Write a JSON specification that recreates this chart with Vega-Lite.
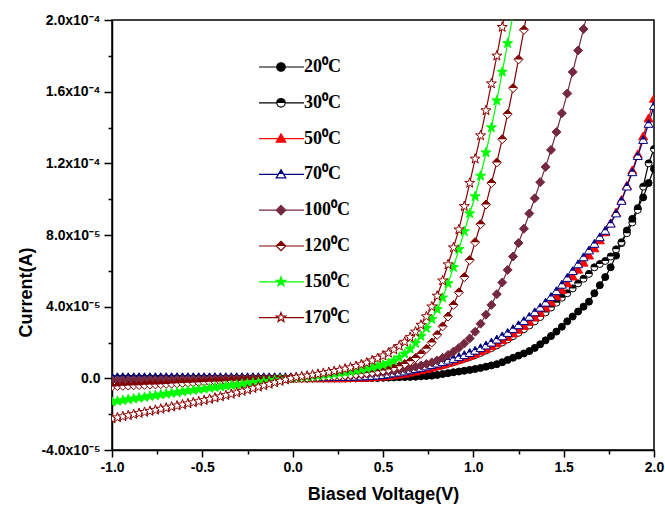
{
"$schema": "https://vega.github.io/schema/vega-lite/v6.json",
"width": 542, "height": 430,
"autosize": "none",
"padding": {"left": 112, "top": 20, "right": 11, "bottom": 60},
"background": "white",
"config": {"view": {"stroke": "black", "strokeWidth": 1.5}},
"data": {"values": [
{"s":"20","v":-1,"i":0},{"s":"20","v":-0.97,"i":0},{"s":"20","v":-0.94,"i":0},{"s":"20","v":-0.91,"i":0},{"s":"20","v":-0.88,"i":0},{"s":"20","v":-0.85,"i":0},{"s":"20","v":-0.82,"i":0},{"s":"20","v":-0.79,"i":0},{"s":"20","v":-0.76,"i":0},{"s":"20","v":-0.73,"i":0},
{"s":"20","v":-0.7,"i":0},{"s":"20","v":-0.67,"i":0},{"s":"20","v":-0.64,"i":0},{"s":"20","v":-0.61,"i":0},{"s":"20","v":-0.58,"i":0},{"s":"20","v":-0.55,"i":0},{"s":"20","v":-0.52,"i":0},{"s":"20","v":-0.49,"i":0},{"s":"20","v":-0.46,"i":0},{"s":"20","v":-0.43,"i":0},
{"s":"20","v":-0.4,"i":0},{"s":"20","v":-0.37,"i":0},{"s":"20","v":-0.34,"i":0},{"s":"20","v":-0.31,"i":0},{"s":"20","v":-0.28,"i":0},{"s":"20","v":-0.25,"i":0},{"s":"20","v":-0.22,"i":0},{"s":"20","v":-0.19,"i":0},{"s":"20","v":-0.16,"i":0},{"s":"20","v":-0.13,"i":0},
{"s":"20","v":-0.1,"i":0},{"s":"20","v":-0.07,"i":0},{"s":"20","v":-0.04,"i":0},{"s":"20","v":-0.01,"i":0},{"s":"20","v":0.02,"i":0},{"s":"20","v":0.05,"i":0},{"s":"20","v":0.08,"i":0},{"s":"20","v":0.11,"i":0},{"s":"20","v":0.14,"i":0},{"s":"20","v":0.17,"i":0},
{"s":"20","v":0.2,"i":0},{"s":"20","v":0.23,"i":0},{"s":"20","v":0.26,"i":0},{"s":"20","v":0.29,"i":0},{"s":"20","v":0.32,"i":0},{"s":"20","v":0.35,"i":0},{"s":"20","v":0.38,"i":0.1e-6},{"s":"20","v":0.41,"i":0.1e-6},{"s":"20","v":0.44,"i":0.2e-6},{"s":"20","v":0.47,"i":0.2e-6},
{"s":"20","v":0.5,"i":0.3e-6},{"s":"20","v":0.53,"i":0.4e-6},{"s":"20","v":0.56,"i":0.5e-6},{"s":"20","v":0.59,"i":0.6e-6},{"s":"20","v":0.62,"i":0.7e-6},{"s":"20","v":0.65,"i":0.8e-6},{"s":"20","v":0.68,"i":0.9e-6},{"s":"20","v":0.71,"i":1.1e-6},{"s":"20","v":0.74,"i":1.3e-6},{"s":"20","v":0.77,"i":1.5e-6},
{"s":"20","v":0.8,"i":1.9e-6},{"s":"20","v":0.83,"i":2.4e-6},{"s":"20","v":0.86,"i":2.9e-6},{"s":"20","v":0.89,"i":3.4e-6},{"s":"20","v":0.92,"i":3.8e-6},{"s":"20","v":0.95,"i":4.2e-6},{"s":"20","v":0.98,"i":4.7e-6},{"s":"20","v":1.01,"i":5.2e-6},{"s":"20","v":1.04,"i":5.8e-6},{"s":"20","v":1.07,"i":6.5e-6},
{"s":"20","v":1.1,"i":7.2e-6},{"s":"20","v":1.13,"i":7.9e-6},{"s":"20","v":1.16,"i":9.0e-6},{"s":"20","v":1.19,"i":10.3e-6},{"s":"20","v":1.22,"i":11.5e-6},{"s":"20","v":1.25,"i":12.7e-6},{"s":"20","v":1.28,"i":13.9e-6},{"s":"20","v":1.31,"i":15.2e-6},{"s":"20","v":1.34,"i":17.0e-6},{"s":"20","v":1.37,"i":19.0e-6},
{"s":"20","v":1.4,"i":21.2e-6},{"s":"20","v":1.43,"i":23.6e-6},{"s":"20","v":1.46,"i":26.1e-6},{"s":"20","v":1.49,"i":28.8e-6},{"s":"20","v":1.52,"i":31.8e-6},{"s":"20","v":1.55,"i":34.5e-6},{"s":"20","v":1.58,"i":37.3e-6},{"s":"20","v":1.61,"i":40.0e-6},{"s":"20","v":1.64,"i":42.8e-6},{"s":"20","v":1.67,"i":47.5e-6},
{"s":"20","v":1.7,"i":52.0e-6},{"s":"20","v":1.73,"i":56.5e-6},{"s":"20","v":1.76,"i":62.0e-6},{"s":"20","v":1.79,"i":68.5e-6},{"s":"20","v":1.82,"i":75.5e-6},{"s":"20","v":1.85,"i":82.5e-6},{"s":"20","v":1.88,"i":89.0e-6},{"s":"20","v":1.91,"i":95.0e-6},{"s":"20","v":1.94,"i":101e-6},{"s":"20","v":1.97,"i":109e-6},
{"s":"20","v":2,"i":117e-6},
{"s":"30","v":-1,"i":0},{"s":"30","v":-0.97,"i":0},{"s":"30","v":-0.94,"i":0},{"s":"30","v":-0.91,"i":0},{"s":"30","v":-0.88,"i":0},{"s":"30","v":-0.85,"i":0},{"s":"30","v":-0.82,"i":0},{"s":"30","v":-0.79,"i":0},{"s":"30","v":-0.76,"i":0},{"s":"30","v":-0.73,"i":0},
{"s":"30","v":-0.7,"i":0},{"s":"30","v":-0.67,"i":0},{"s":"30","v":-0.64,"i":0},{"s":"30","v":-0.61,"i":0},{"s":"30","v":-0.58,"i":0},{"s":"30","v":-0.55,"i":0},{"s":"30","v":-0.52,"i":0},{"s":"30","v":-0.49,"i":0},{"s":"30","v":-0.46,"i":0},{"s":"30","v":-0.43,"i":0},
{"s":"30","v":-0.4,"i":0},{"s":"30","v":-0.37,"i":0},{"s":"30","v":-0.34,"i":0},{"s":"30","v":-0.31,"i":0},{"s":"30","v":-0.28,"i":0},{"s":"30","v":-0.25,"i":0},{"s":"30","v":-0.22,"i":0},{"s":"30","v":-0.19,"i":0},{"s":"30","v":-0.16,"i":0},{"s":"30","v":-0.13,"i":0},
{"s":"30","v":-0.1,"i":0},{"s":"30","v":-0.07,"i":0},{"s":"30","v":-0.04,"i":0},{"s":"30","v":-0.01,"i":0},{"s":"30","v":0.02,"i":0},{"s":"30","v":0.05,"i":0},{"s":"30","v":0.08,"i":0},{"s":"30","v":0.11,"i":0},{"s":"30","v":0.14,"i":0},{"s":"30","v":0.17,"i":0},
{"s":"30","v":0.2,"i":0},{"s":"30","v":0.23,"i":0},{"s":"30","v":0.26,"i":0},{"s":"30","v":0.29,"i":0},{"s":"30","v":0.32,"i":0},{"s":"30","v":0.35,"i":0},{"s":"30","v":0.38,"i":0.1e-6},{"s":"30","v":0.41,"i":0.2e-6},{"s":"30","v":0.44,"i":0.3e-6},{"s":"30","v":0.47,"i":0.5e-6},
{"s":"30","v":0.5,"i":0.7e-6},{"s":"30","v":0.53,"i":1.0e-6},{"s":"30","v":0.56,"i":1.4e-6},{"s":"30","v":0.59,"i":1.8e-6},{"s":"30","v":0.62,"i":2.3e-6},{"s":"30","v":0.65,"i":2.9e-6},{"s":"30","v":0.68,"i":3.5e-6},{"s":"30","v":0.71,"i":4.2e-6},{"s":"30","v":0.74,"i":4.9e-6},{"s":"30","v":0.77,"i":5.7e-6},
{"s":"30","v":0.8,"i":6.5e-6},{"s":"30","v":0.83,"i":7.3e-6},{"s":"30","v":0.86,"i":8.1e-6},{"s":"30","v":0.89,"i":9.0e-6},{"s":"30","v":0.92,"i":9.9e-6},{"s":"30","v":0.95,"i":10.9e-6},{"s":"30","v":0.98,"i":11.9e-6},{"s":"30","v":1.01,"i":13.0e-6},{"s":"30","v":1.04,"i":14.2e-6},{"s":"30","v":1.07,"i":15.5e-6},
{"s":"30","v":1.1,"i":16.9e-6},{"s":"30","v":1.13,"i":18.4e-6},{"s":"30","v":1.16,"i":20.0e-6},{"s":"30","v":1.19,"i":21.7e-6},{"s":"30","v":1.22,"i":23.5e-6},{"s":"30","v":1.25,"i":25.4e-6},{"s":"30","v":1.28,"i":27.4e-6},{"s":"30","v":1.31,"i":29.5e-6},{"s":"30","v":1.34,"i":31.8e-6},{"s":"30","v":1.37,"i":34.2e-6},
{"s":"30","v":1.4,"i":36.8e-6},{"s":"30","v":1.43,"i":39.5e-6},{"s":"30","v":1.46,"i":42.2e-6},{"s":"30","v":1.49,"i":45.0e-6},{"s":"30","v":1.52,"i":47.5e-6},{"s":"30","v":1.55,"i":50.2e-6},{"s":"30","v":1.58,"i":53.0e-6},{"s":"30","v":1.61,"i":55.6e-6},{"s":"30","v":1.64,"i":58.3e-6},{"s":"30","v":1.67,"i":62.0e-6},
{"s":"30","v":1.7,"i":63.8e-6},{"s":"30","v":1.73,"i":65.5e-6},{"s":"30","v":1.76,"i":68.0e-6},{"s":"30","v":1.79,"i":72.0e-6},{"s":"30","v":1.82,"i":76.0e-6},{"s":"30","v":1.85,"i":81.0e-6},{"s":"30","v":1.88,"i":87.0e-6},{"s":"30","v":1.91,"i":94.0e-6},{"s":"30","v":1.94,"i":107e-6},{"s":"30","v":1.97,"i":120e-6},
{"s":"30","v":2,"i":128e-6},
{"s":"50","v":-1,"i":0},{"s":"50","v":-0.97,"i":0},{"s":"50","v":-0.94,"i":0},{"s":"50","v":-0.91,"i":0},{"s":"50","v":-0.88,"i":0},{"s":"50","v":-0.85,"i":0},{"s":"50","v":-0.82,"i":0},{"s":"50","v":-0.79,"i":0},{"s":"50","v":-0.76,"i":0},{"s":"50","v":-0.73,"i":0},
{"s":"50","v":-0.7,"i":0},{"s":"50","v":-0.67,"i":0},{"s":"50","v":-0.64,"i":0},{"s":"50","v":-0.61,"i":0},{"s":"50","v":-0.58,"i":0},{"s":"50","v":-0.55,"i":0},{"s":"50","v":-0.52,"i":0},{"s":"50","v":-0.49,"i":0},{"s":"50","v":-0.46,"i":0},{"s":"50","v":-0.43,"i":0},
{"s":"50","v":-0.4,"i":0},{"s":"50","v":-0.37,"i":0},{"s":"50","v":-0.34,"i":0},{"s":"50","v":-0.31,"i":0},{"s":"50","v":-0.28,"i":0},{"s":"50","v":-0.25,"i":0},{"s":"50","v":-0.22,"i":0},{"s":"50","v":-0.19,"i":0},{"s":"50","v":-0.16,"i":0},{"s":"50","v":-0.13,"i":0},
{"s":"50","v":-0.1,"i":0},{"s":"50","v":-0.07,"i":0},{"s":"50","v":-0.04,"i":0},{"s":"50","v":-0.01,"i":0},{"s":"50","v":0.02,"i":0},{"s":"50","v":0.05,"i":0},{"s":"50","v":0.08,"i":0},{"s":"50","v":0.11,"i":0},{"s":"50","v":0.14,"i":0},{"s":"50","v":0.17,"i":0},
{"s":"50","v":0.2,"i":0},{"s":"50","v":0.23,"i":0},{"s":"50","v":0.26,"i":0},{"s":"50","v":0.29,"i":0},{"s":"50","v":0.32,"i":0.1e-6},{"s":"50","v":0.35,"i":0.2e-6},{"s":"50","v":0.38,"i":0.3e-6},{"s":"50","v":0.41,"i":0.4e-6},{"s":"50","v":0.44,"i":0.6e-6},{"s":"50","v":0.47,"i":0.8e-6},
{"s":"50","v":0.5,"i":1.0e-6},{"s":"50","v":0.53,"i":1.3e-6},{"s":"50","v":0.56,"i":1.7e-6},{"s":"50","v":0.59,"i":2.1e-6},{"s":"50","v":0.62,"i":2.6e-6},{"s":"50","v":0.65,"i":3.2e-6},{"s":"50","v":0.68,"i":3.8e-6},{"s":"50","v":0.71,"i":4.5e-6},{"s":"50","v":0.74,"i":5.2e-6},{"s":"50","v":0.77,"i":6.0e-6},
{"s":"50","v":0.8,"i":6.8e-6},{"s":"50","v":0.83,"i":7.6e-6},{"s":"50","v":0.86,"i":8.5e-6},{"s":"50","v":0.89,"i":9.4e-6},{"s":"50","v":0.92,"i":10.4e-6},{"s":"50","v":0.95,"i":11.4e-6},{"s":"50","v":0.98,"i":12.5e-6},{"s":"50","v":1.01,"i":13.7e-6},{"s":"50","v":1.04,"i":15.0e-6},{"s":"50","v":1.07,"i":16.4e-6},
{"s":"50","v":1.1,"i":17.9e-6},{"s":"50","v":1.13,"i":19.5e-6},{"s":"50","v":1.16,"i":21.2e-6},{"s":"50","v":1.19,"i":23.0e-6},{"s":"50","v":1.22,"i":25.0e-6},{"s":"50","v":1.25,"i":27.1e-6},{"s":"50","v":1.28,"i":29.3e-6},{"s":"50","v":1.31,"i":31.6e-6},{"s":"50","v":1.34,"i":34.0e-6},{"s":"50","v":1.37,"i":36.6e-6},
{"s":"50","v":1.4,"i":39.4e-6},{"s":"50","v":1.43,"i":42.4e-6},{"s":"50","v":1.46,"i":45.7e-6},{"s":"50","v":1.49,"i":49.3e-6},{"s":"50","v":1.52,"i":53.0e-6},{"s":"50","v":1.55,"i":56.8e-6},{"s":"50","v":1.58,"i":60.6e-6},{"s":"50","v":1.61,"i":64.5e-6},{"s":"50","v":1.64,"i":68.5e-6},{"s":"50","v":1.67,"i":72.5e-6},
{"s":"50","v":1.7,"i":77.0e-6},{"s":"50","v":1.73,"i":81.5e-6},{"s":"50","v":1.76,"i":86.5e-6},{"s":"50","v":1.79,"i":92.5e-6},{"s":"50","v":1.82,"i":99.5e-6},{"s":"50","v":1.85,"i":107.5e-6},{"s":"50","v":1.88,"i":116e-6},{"s":"50","v":1.91,"i":125e-6},{"s":"50","v":1.94,"i":135e-6},{"s":"50","v":1.97,"i":145e-6},
{"s":"50","v":2,"i":156e-6},
{"s":"70","v":-1,"i":0.6e-6},{"s":"70","v":-0.97,"i":0.6e-6},{"s":"70","v":-0.94,"i":0.6e-6},{"s":"70","v":-0.91,"i":0.6e-6},{"s":"70","v":-0.88,"i":0.6e-6},{"s":"70","v":-0.85,"i":0.6e-6},{"s":"70","v":-0.82,"i":0.6e-6},{"s":"70","v":-0.79,"i":0.6e-6},{"s":"70","v":-0.76,"i":0.6e-6},{"s":"70","v":-0.73,"i":0.6e-6},
{"s":"70","v":-0.7,"i":0.6e-6},{"s":"70","v":-0.67,"i":0.6e-6},{"s":"70","v":-0.64,"i":0.6e-6},{"s":"70","v":-0.61,"i":0.6e-6},{"s":"70","v":-0.58,"i":0.6e-6},{"s":"70","v":-0.55,"i":0.6e-6},{"s":"70","v":-0.52,"i":0.6e-6},{"s":"70","v":-0.49,"i":0.6e-6},{"s":"70","v":-0.46,"i":0.6e-6},{"s":"70","v":-0.43,"i":0.6e-6},
{"s":"70","v":-0.4,"i":0.6e-6},{"s":"70","v":-0.37,"i":0.6e-6},{"s":"70","v":-0.34,"i":0.6e-6},{"s":"70","v":-0.31,"i":0.6e-6},{"s":"70","v":-0.28,"i":0.6e-6},{"s":"70","v":-0.25,"i":0.6e-6},{"s":"70","v":-0.22,"i":0.6e-6},{"s":"70","v":-0.19,"i":0.6e-6},{"s":"70","v":-0.16,"i":0.6e-6},{"s":"70","v":-0.13,"i":0.6e-6},
{"s":"70","v":-0.1,"i":0.6e-6},{"s":"70","v":-0.07,"i":0.6e-6},{"s":"70","v":-0.04,"i":0.6e-6},{"s":"70","v":-0.01,"i":0.6e-6},{"s":"70","v":0.02,"i":0.6e-6},{"s":"70","v":0.05,"i":0.6e-6},{"s":"70","v":0.08,"i":0.6e-6},{"s":"70","v":0.11,"i":0.6e-6},{"s":"70","v":0.14,"i":0.6e-6},{"s":"70","v":0.17,"i":0.6e-6},
{"s":"70","v":0.2,"i":0.6e-6},{"s":"70","v":0.23,"i":0.65e-6},{"s":"70","v":0.26,"i":0.7e-6},{"s":"70","v":0.29,"i":0.75e-6},{"s":"70","v":0.32,"i":0.8e-6},{"s":"70","v":0.35,"i":0.9e-6},{"s":"70","v":0.38,"i":1.0e-6},{"s":"70","v":0.41,"i":1.1e-6},{"s":"70","v":0.44,"i":1.3e-6},{"s":"70","v":0.47,"i":1.5e-6},
{"s":"70","v":0.5,"i":1.8e-6},{"s":"70","v":0.53,"i":2.2e-6},{"s":"70","v":0.56,"i":2.7e-6},{"s":"70","v":0.59,"i":3.2e-6},{"s":"70","v":0.62,"i":3.8e-6},{"s":"70","v":0.65,"i":4.4e-6},{"s":"70","v":0.68,"i":5.1e-6},{"s":"70","v":0.71,"i":5.8e-6},{"s":"70","v":0.74,"i":6.6e-6},{"s":"70","v":0.77,"i":7.4e-6},
{"s":"70","v":0.8,"i":8.2e-6},{"s":"70","v":0.83,"i":9.0e-6},{"s":"70","v":0.86,"i":9.9e-6},{"s":"70","v":0.89,"i":10.8e-6},{"s":"70","v":0.92,"i":11.8e-6},{"s":"70","v":0.95,"i":12.9e-6},{"s":"70","v":0.98,"i":14.1e-6},{"s":"70","v":1.01,"i":15.4e-6},{"s":"70","v":1.04,"i":16.8e-6},{"s":"70","v":1.07,"i":18.3e-6},
{"s":"70","v":1.1,"i":19.9e-6},{"s":"70","v":1.13,"i":21.6e-6},{"s":"70","v":1.16,"i":23.4e-6},{"s":"70","v":1.19,"i":25.3e-6},{"s":"70","v":1.22,"i":27.4e-6},{"s":"70","v":1.25,"i":29.6e-6},{"s":"70","v":1.28,"i":31.9e-6},{"s":"70","v":1.31,"i":34.3e-6},{"s":"70","v":1.34,"i":36.8e-6},{"s":"70","v":1.37,"i":39.4e-6},
{"s":"70","v":1.4,"i":42.2e-6},{"s":"70","v":1.43,"i":45.3e-6},{"s":"70","v":1.46,"i":48.6e-6},{"s":"70","v":1.49,"i":52.2e-6},{"s":"70","v":1.52,"i":56.0e-6},{"s":"70","v":1.55,"i":59.8e-6},{"s":"70","v":1.58,"i":63.6e-6},{"s":"70","v":1.61,"i":67.5e-6},{"s":"70","v":1.64,"i":71.3e-6},{"s":"70","v":1.67,"i":75.0e-6},
{"s":"70","v":1.7,"i":78.7e-6},{"s":"70","v":1.73,"i":82.3e-6},{"s":"70","v":1.76,"i":86.3e-6},{"s":"70","v":1.79,"i":92.0e-6},{"s":"70","v":1.82,"i":99.0e-6},{"s":"70","v":1.85,"i":107e-6},{"s":"70","v":1.88,"i":115e-6},{"s":"70","v":1.91,"i":124e-6},{"s":"70","v":1.94,"i":133e-6},{"s":"70","v":1.97,"i":142e-6},
{"s":"70","v":2,"i":152e-6},
{"s":"100","v":-1,"i":-1.2e-6},{"s":"100","v":-0.97,"i":-1.2e-6},{"s":"100","v":-0.94,"i":-1.1e-6},{"s":"100","v":-0.91,"i":-1.1e-6},{"s":"100","v":-0.88,"i":-1.1e-6},{"s":"100","v":-0.85,"i":-1.0e-6},{"s":"100","v":-0.82,"i":-1.0e-6},{"s":"100","v":-0.79,"i":-0.9e-6},{"s":"100","v":-0.76,"i":-0.9e-6},{"s":"100","v":-0.73,"i":-0.9e-6},
{"s":"100","v":-0.7,"i":-0.8e-6},{"s":"100","v":-0.67,"i":-0.8e-6},{"s":"100","v":-0.64,"i":-0.8e-6},{"s":"100","v":-0.61,"i":-0.7e-6},{"s":"100","v":-0.58,"i":-0.7e-6},{"s":"100","v":-0.55,"i":-0.7e-6},{"s":"100","v":-0.52,"i":-0.6e-6},{"s":"100","v":-0.49,"i":-0.6e-6},{"s":"100","v":-0.46,"i":-0.6e-6},{"s":"100","v":-0.43,"i":-0.5e-6},
{"s":"100","v":-0.4,"i":-0.5e-6},{"s":"100","v":-0.37,"i":-0.4e-6},{"s":"100","v":-0.34,"i":-0.4e-6},{"s":"100","v":-0.31,"i":-0.4e-6},{"s":"100","v":-0.28,"i":-0.3e-6},{"s":"100","v":-0.25,"i":-0.3e-6},{"s":"100","v":-0.22,"i":-0.3e-6},{"s":"100","v":-0.19,"i":-0.2e-6},{"s":"100","v":-0.16,"i":-0.2e-6},{"s":"100","v":-0.13,"i":-0.2e-6},
{"s":"100","v":-0.1,"i":-0.1e-6},{"s":"100","v":-0.07,"i":-0.1e-6},{"s":"100","v":-0.04,"i":-0.05e-6},{"s":"100","v":-0.01,"i":0},{"s":"100","v":0.02,"i":0.1e-6},{"s":"100","v":0.05,"i":0.2e-6},{"s":"100","v":0.08,"i":0.3e-6},{"s":"100","v":0.11,"i":0.4e-6},{"s":"100","v":0.14,"i":0.5e-6},{"s":"100","v":0.17,"i":0.7e-6},
{"s":"100","v":0.2,"i":0.9e-6},{"s":"100","v":0.23,"i":1.1e-6},{"s":"100","v":0.26,"i":1.3e-6},{"s":"100","v":0.29,"i":1.5e-6},{"s":"100","v":0.32,"i":1.7e-6},{"s":"100","v":0.35,"i":2.0e-6},{"s":"100","v":0.38,"i":2.3e-6},{"s":"100","v":0.41,"i":2.6e-6},{"s":"100","v":0.44,"i":2.9e-6},{"s":"100","v":0.47,"i":3.2e-6},
{"s":"100","v":0.5,"i":3.5e-6},{"s":"100","v":0.53,"i":3.9e-6},{"s":"100","v":0.56,"i":4.3e-6},{"s":"100","v":0.59,"i":4.8e-6},{"s":"100","v":0.62,"i":5.3e-6},{"s":"100","v":0.65,"i":5.9e-6},{"s":"100","v":0.68,"i":6.5e-6},{"s":"100","v":0.71,"i":7.2e-6},{"s":"100","v":0.74,"i":8.0e-6},{"s":"100","v":0.77,"i":8.9e-6},
{"s":"100","v":0.8,"i":10.0e-6},{"s":"100","v":0.83,"i":11.4e-6},{"s":"100","v":0.86,"i":13.0e-6},{"s":"100","v":0.89,"i":14.9e-6},{"s":"100","v":0.92,"i":17.0e-6},{"s":"100","v":0.95,"i":19.5e-6},{"s":"100","v":0.98,"i":22.3e-6},{"s":"100","v":1.01,"i":26.0e-6},{"s":"100","v":1.04,"i":30.5e-6},{"s":"100","v":1.07,"i":35.5e-6},
{"s":"100","v":1.1,"i":41.0e-6},{"s":"100","v":1.13,"i":47.0e-6},{"s":"100","v":1.16,"i":53.5e-6},{"s":"100","v":1.19,"i":60.5e-6},{"s":"100","v":1.22,"i":68.0e-6},{"s":"100","v":1.25,"i":75.5e-6},{"s":"100","v":1.28,"i":83.5e-6},{"s":"100","v":1.31,"i":92.0e-6},{"s":"100","v":1.34,"i":100.5e-6},{"s":"100","v":1.37,"i":109.5e-6},
{"s":"100","v":1.4,"i":118.0e-6},{"s":"100","v":1.43,"i":127.5e-6},{"s":"100","v":1.46,"i":137.5e-6},{"s":"100","v":1.49,"i":148.0e-6},{"s":"100","v":1.52,"i":159.0e-6},{"s":"100","v":1.55,"i":171.0e-6},{"s":"100","v":1.58,"i":183.0e-6},{"s":"100","v":1.61,"i":195.0e-6},{"s":"100","v":1.64,"i":207.0e-6},
{"s":"120","v":-1,"i":-4.5e-6},{"s":"120","v":-0.97,"i":-4.35e-6},{"s":"120","v":-0.94,"i":-4.2e-6},{"s":"120","v":-0.91,"i":-4.05e-6},{"s":"120","v":-0.88,"i":-3.9e-6},{"s":"120","v":-0.85,"i":-3.8e-6},{"s":"120","v":-0.82,"i":-3.65e-6},{"s":"120","v":-0.79,"i":-3.5e-6},{"s":"120","v":-0.76,"i":-3.4e-6},{"s":"120","v":-0.73,"i":-3.25e-6},
{"s":"120","v":-0.7,"i":-3.1e-6},{"s":"120","v":-0.67,"i":-2.95e-6},{"s":"120","v":-0.64,"i":-2.8e-6},{"s":"120","v":-0.61,"i":-2.65e-6},{"s":"120","v":-0.58,"i":-2.5e-6},{"s":"120","v":-0.55,"i":-2.35e-6},{"s":"120","v":-0.52,"i":-2.2e-6},{"s":"120","v":-0.49,"i":-2.05e-6},{"s":"120","v":-0.46,"i":-1.95e-6},{"s":"120","v":-0.43,"i":-1.8e-6},
{"s":"120","v":-0.4,"i":-1.7e-6},{"s":"120","v":-0.37,"i":-1.55e-6},{"s":"120","v":-0.34,"i":-1.4e-6},{"s":"120","v":-0.31,"i":-1.3e-6},{"s":"120","v":-0.28,"i":-1.15e-6},{"s":"120","v":-0.25,"i":-1.0e-6},{"s":"120","v":-0.22,"i":-0.9e-6},{"s":"120","v":-0.19,"i":-0.75e-6},{"s":"120","v":-0.16,"i":-0.6e-6},{"s":"120","v":-0.13,"i":-0.5e-6},
{"s":"120","v":-0.1,"i":-0.4e-6},{"s":"120","v":-0.07,"i":-0.25e-6},{"s":"120","v":-0.04,"i":-0.15e-6},{"s":"120","v":-0.01,"i":0},{"s":"120","v":0.02,"i":0.1e-6},{"s":"120","v":0.05,"i":0.2e-6},{"s":"120","v":0.08,"i":0.35e-6},{"s":"120","v":0.11,"i":0.5e-6},{"s":"120","v":0.14,"i":0.7e-6},{"s":"120","v":0.17,"i":0.9e-6},
{"s":"120","v":0.2,"i":1.1e-6},{"s":"120","v":0.23,"i":1.3e-6},{"s":"120","v":0.26,"i":1.5e-6},{"s":"120","v":0.29,"i":1.7e-6},{"s":"120","v":0.32,"i":2.0e-6},{"s":"120","v":0.35,"i":2.3e-6},{"s":"120","v":0.38,"i":2.6e-6},{"s":"120","v":0.41,"i":3.0e-6},{"s":"120","v":0.44,"i":3.4e-6},{"s":"120","v":0.47,"i":3.9e-6},
{"s":"120","v":0.5,"i":4.4e-6},{"s":"120","v":0.53,"i":5.0e-6},{"s":"120","v":0.56,"i":5.8e-6},{"s":"120","v":0.59,"i":6.8e-6},{"s":"120","v":0.62,"i":8.0e-6},{"s":"120","v":0.65,"i":9.5e-6},{"s":"120","v":0.68,"i":11.3e-6},{"s":"120","v":0.71,"i":13.6e-6},{"s":"120","v":0.74,"i":16.5e-6},{"s":"120","v":0.77,"i":20.0e-6},
{"s":"120","v":0.8,"i":24.3e-6},{"s":"120","v":0.83,"i":29.0e-6},{"s":"120","v":0.86,"i":34.5e-6},{"s":"120","v":0.89,"i":41.0e-6},{"s":"120","v":0.92,"i":48.0e-6},{"s":"120","v":0.95,"i":56.5e-6},{"s":"120","v":0.98,"i":66.0e-6},{"s":"120","v":1.01,"i":76.0e-6},{"s":"120","v":1.04,"i":86.0e-6},{"s":"120","v":1.07,"i":97.0e-6},
{"s":"120","v":1.1,"i":109.0e-6},{"s":"120","v":1.13,"i":120.5e-6},{"s":"120","v":1.16,"i":133.5e-6},{"s":"120","v":1.19,"i":147.5e-6},{"s":"120","v":1.22,"i":162.0e-6},{"s":"120","v":1.25,"i":178.0e-6},{"s":"120","v":1.28,"i":194.5e-6},{"s":"120","v":1.31,"i":211.0e-6},
{"s":"150","v":-1,"i":-13.2e-6},{"s":"150","v":-0.97,"i":-12.7e-6},{"s":"150","v":-0.94,"i":-12.3e-6},{"s":"150","v":-0.91,"i":-11.8e-6},{"s":"150","v":-0.88,"i":-11.4e-6},{"s":"150","v":-0.85,"i":-10.9e-6},{"s":"150","v":-0.82,"i":-10.5e-6},{"s":"150","v":-0.79,"i":-10.0e-6},{"s":"150","v":-0.76,"i":-9.6e-6},{"s":"150","v":-0.73,"i":-9.1e-6},
{"s":"150","v":-0.7,"i":-8.7e-6},{"s":"150","v":-0.67,"i":-8.3e-6},{"s":"150","v":-0.64,"i":-7.9e-6},{"s":"150","v":-0.61,"i":-7.4e-6},{"s":"150","v":-0.58,"i":-7.0e-6},{"s":"150","v":-0.55,"i":-6.6e-6},{"s":"150","v":-0.52,"i":-6.2e-6},{"s":"150","v":-0.49,"i":-5.9e-6},{"s":"150","v":-0.46,"i":-5.5e-6},{"s":"150","v":-0.43,"i":-5.1e-6},
{"s":"150","v":-0.4,"i":-4.7e-6},{"s":"150","v":-0.37,"i":-4.3e-6},{"s":"150","v":-0.34,"i":-3.9e-6},{"s":"150","v":-0.31,"i":-3.6e-6},{"s":"150","v":-0.28,"i":-3.2e-6},{"s":"150","v":-0.25,"i":-2.9e-6},{"s":"150","v":-0.22,"i":-2.5e-6},{"s":"150","v":-0.19,"i":-2.2e-6},{"s":"150","v":-0.16,"i":-1.8e-6},{"s":"150","v":-0.13,"i":-1.5e-6},
{"s":"150","v":-0.1,"i":-1.1e-6},{"s":"150","v":-0.07,"i":-0.8e-6},{"s":"150","v":-0.04,"i":-0.5e-6},{"s":"150","v":-0.01,"i":-0.2e-6},{"s":"150","v":0.02,"i":0.2e-6},{"s":"150","v":0.05,"i":0.5e-6},{"s":"150","v":0.08,"i":0.8e-6},{"s":"150","v":0.11,"i":1.1e-6},{"s":"150","v":0.14,"i":1.4e-6},{"s":"150","v":0.17,"i":1.8e-6},
{"s":"150","v":0.2,"i":2.1e-6},{"s":"150","v":0.23,"i":2.5e-6},{"s":"150","v":0.26,"i":2.9e-6},{"s":"150","v":0.29,"i":3.3e-6},{"s":"150","v":0.32,"i":3.8e-6},{"s":"150","v":0.35,"i":4.3e-6},{"s":"150","v":0.38,"i":4.9e-6},{"s":"150","v":0.41,"i":5.5e-6},{"s":"150","v":0.44,"i":6.1e-6},{"s":"150","v":0.47,"i":6.8e-6},
{"s":"150","v":0.5,"i":7.5e-6},{"s":"150","v":0.53,"i":8.5e-6},{"s":"150","v":0.56,"i":9.8e-6},{"s":"150","v":0.59,"i":11.5e-6},{"s":"150","v":0.62,"i":13.7e-6},{"s":"150","v":0.65,"i":16.4e-6},{"s":"150","v":0.68,"i":19.6e-6},{"s":"150","v":0.71,"i":23.5e-6},{"s":"150","v":0.74,"i":28.0e-6},{"s":"150","v":0.77,"i":33.0e-6},
{"s":"150","v":0.8,"i":38.5e-6},{"s":"150","v":0.83,"i":45.0e-6},{"s":"150","v":0.86,"i":53.0e-6},{"s":"150","v":0.89,"i":62.0e-6},{"s":"150","v":0.92,"i":72.0e-6},{"s":"150","v":0.95,"i":82.0e-6},{"s":"150","v":0.98,"i":92.0e-6},{"s":"150","v":1.01,"i":101.5e-6},{"s":"150","v":1.04,"i":113.0e-6},{"s":"150","v":1.07,"i":126.0e-6},
{"s":"150","v":1.1,"i":140.0e-6},{"s":"150","v":1.13,"i":155.0e-6},{"s":"150","v":1.16,"i":171.0e-6},{"s":"150","v":1.19,"i":187.0e-6},{"s":"150","v":1.22,"i":203.0e-6},
{"s":"170","v":-1,"i":-22.5e-6},{"s":"170","v":-0.97,"i":-21.9e-6},{"s":"170","v":-0.94,"i":-21.3e-6},{"s":"170","v":-0.91,"i":-20.7e-6},{"s":"170","v":-0.88,"i":-20.1e-6},{"s":"170","v":-0.85,"i":-19.5e-6},{"s":"170","v":-0.82,"i":-18.9e-6},{"s":"170","v":-0.79,"i":-18.3e-6},{"s":"170","v":-0.76,"i":-17.7e-6},{"s":"170","v":-0.73,"i":-17.1e-6},
{"s":"170","v":-0.7,"i":-16.5e-6},{"s":"170","v":-0.67,"i":-15.9e-6},{"s":"170","v":-0.64,"i":-15.3e-6},{"s":"170","v":-0.61,"i":-14.7e-6},{"s":"170","v":-0.58,"i":-14.1e-6},{"s":"170","v":-0.55,"i":-13.5e-6},{"s":"170","v":-0.52,"i":-12.9e-6},{"s":"170","v":-0.49,"i":-12.3e-6},{"s":"170","v":-0.46,"i":-11.6e-6},{"s":"170","v":-0.43,"i":-10.9e-6},
{"s":"170","v":-0.4,"i":-10.2e-6},{"s":"170","v":-0.37,"i":-9.5e-6},{"s":"170","v":-0.34,"i":-8.8e-6},{"s":"170","v":-0.31,"i":-8.0e-6},{"s":"170","v":-0.28,"i":-7.2e-6},{"s":"170","v":-0.25,"i":-6.4e-6},{"s":"170","v":-0.22,"i":-5.6e-6},{"s":"170","v":-0.19,"i":-4.8e-6},{"s":"170","v":-0.16,"i":-4.0e-6},{"s":"170","v":-0.13,"i":-3.2e-6},
{"s":"170","v":-0.1,"i":-2.4e-6},{"s":"170","v":-0.07,"i":-1.6e-6},{"s":"170","v":-0.04,"i":-0.8e-6},{"s":"170","v":-0.01,"i":0},{"s":"170","v":0.02,"i":0.6e-6},{"s":"170","v":0.05,"i":1.0e-6},{"s":"170","v":0.08,"i":1.4e-6},{"s":"170","v":0.11,"i":1.9e-6},{"s":"170","v":0.14,"i":2.4e-6},{"s":"170","v":0.17,"i":2.9e-6},
{"s":"170","v":0.2,"i":3.4e-6},{"s":"170","v":0.23,"i":4.0e-6},{"s":"170","v":0.26,"i":4.6e-6},{"s":"170","v":0.29,"i":5.3e-6},{"s":"170","v":0.32,"i":6.0e-6},{"s":"170","v":0.35,"i":6.8e-6},{"s":"170","v":0.38,"i":7.7e-6},{"s":"170","v":0.41,"i":8.7e-6},{"s":"170","v":0.44,"i":9.9e-6},{"s":"170","v":0.47,"i":11.2e-6},
{"s":"170","v":0.5,"i":12.6e-6},{"s":"170","v":0.53,"i":14.2e-6},{"s":"170","v":0.56,"i":16.0e-6},{"s":"170","v":0.59,"i":18.0e-6},{"s":"170","v":0.62,"i":20.3e-6},{"s":"170","v":0.65,"i":22.9e-6},{"s":"170","v":0.68,"i":26.0e-6},{"s":"170","v":0.71,"i":29.8e-6},{"s":"170","v":0.74,"i":34.5e-6},{"s":"170","v":0.77,"i":40.0e-6},
{"s":"170","v":0.8,"i":46.0e-6},{"s":"170","v":0.83,"i":54.5e-6},{"s":"170","v":0.86,"i":63.5e-6},{"s":"170","v":0.89,"i":73.0e-6},{"s":"170","v":0.92,"i":83.0e-6},{"s":"170","v":0.95,"i":96.0e-6},{"s":"170","v":0.98,"i":109.0e-6},{"s":"170","v":1.01,"i":122.5e-6},{"s":"170","v":1.04,"i":135.5e-6},{"s":"170","v":1.07,"i":149.5e-6},
{"s":"170","v":1.1,"i":164.5e-6},{"s":"170","v":1.13,"i":180.0e-6},{"s":"170","v":1.16,"i":196.0e-6},{"s":"170","v":1.19,"i":212.0e-6}
]},
"encoding": {
  "x": {"field": "v", "type": "quantitative", "scale": {"domain": [-1, 2], "nice": false, "zero": false}, "axis": null},
  "y": {"field": "i", "type": "quantitative", "scale": {"domain": [-4e-5, 2e-4], "nice": false, "zero": false}, "axis": null}
},
"layer": [
  {
    "mark": {"type": "point", "opacity": 0, "size": 100, "strokeWidth": 1.2, "clip": true},
    "encoding": {
      "x": {"field": "v", "type": "quantitative", "scale": {"domain": [-1, 2], "nice": false, "zero": false},
        "axis": {"orient": "bottom", "values": [-0.75, -0.25, 0.25, 0.75, 1.25, 1.75], "tickSize": 4, "tickWidth": 1.5, "tickColor": "black", "labels": false, "domain": false, "grid": false, "title": null}},
      "y": {"field": "i", "type": "quantitative", "scale": {"domain": [-4e-5, 2e-4], "nice": false, "zero": false},
        "axis": {"orient": "left", "values": [-2e-5, 2e-5, 6e-5, 1e-4, 1.4e-4, 1.8e-4], "tickSize": 4, "tickWidth": 1.5, "tickColor": "black", "labels": false, "domain": false, "grid": false, "title": null}},
      "shape": {"field": "s", "type": "nominal",
        "scale": {"domain": ["20","30","50","70","100","120","150","170"],
          "range": [
            "M-4.4,0L-0.85,0M0.85,0L4.6,0M-0.85,0A0.85,0.85,0,1,1,0.85,0A0.85,0.85,0,1,1,-0.85,0Z",
            "M-4.4,0L-0.85,0M0.85,0L4.6,0M-0.85,0A0.85,0.85,0,1,1,0.85,0A0.85,0.85,0,1,1,-0.85,0ZM-0.84,-0.1L0.84,-0.1M-0.79,-0.3L0.79,-0.3M-0.68,-0.5L0.68,-0.5M-0.47,-0.7L0.47,-0.7",
            "M-4.4,0L-0.55,0M0.55,0L4.6,0M0,-0.95L0.95,0.7L-0.95,0.7Z",
            "M-4.4,0L-0.55,0M0.55,0L4.6,0M0,-0.95L0.95,0.7L-0.95,0.7ZM-0.43,-0.2L0.43,-0.2M-0.32,-0.4L0.32,-0.4M-0.2,-0.6L0.2,-0.6",
            "M-4.4,0L-0.95,0M0.95,0L4.6,0M0,-0.95L0.95,0L0,0.95L-0.95,0Z",
            "M-4.4,0L-0.95,0M0.95,0L4.6,0M0,-0.95L0.95,0L0,0.95L-0.95,0ZM-0.85,-0.1L0.85,-0.1M-0.65,-0.3L0.65,-0.3M-0.45,-0.5L0.45,-0.5M-0.25,-0.7L0.25,-0.7",
            "M-4.4,0L-0.55,0M0.55,0L4.6,0M0,-1L0.235,-0.324L0.951,-0.309L0.38,0.124L0.588,0.809L0,0.4L-0.588,0.809L-0.38,0.124L-0.951,-0.309L-0.235,-0.324Z",
            "M-4.4,0L-0.55,0M0.55,0L4.6,0M0,-1L0.235,-0.324L0.951,-0.309L0.38,0.124L0.588,0.809L0,0.4L-0.588,0.809L-0.38,0.124L-0.951,-0.309L-0.235,-0.324Z"
          ]},
        "legend": {"orient": "none", "legendX": 160, "legendY": 38, "title": null, "padding": 0, "labelFont": "Liberation Serif", "labelFontSize": 18, "labelFontWeight": "bold", "labelColor": "black", "labelOffset": 14, "rowPadding": 17.8, "symbolSize": 100, "symbolStrokeWidth": 1.2, "symbolOpacity": 1, "labelExpr": "datum.label + '⁰C'"}},
      "fill": {"field": "s", "type": "nominal",
        "scale": {"domain": ["20","30","50","70","100","120","150","170"], "range": ["#000000","#ffffff","#ff0000","#ffffff","#74293f","#ffffff","#00ff00","#ffffff"]},
        "legend": {"orient": "none", "legendX": 160, "legendY": 38, "title": null, "padding": 0, "labelFont": "Liberation Serif", "labelFontSize": 18, "labelFontWeight": "bold", "labelColor": "black", "labelOffset": 14, "rowPadding": 17.8, "symbolSize": 100, "symbolStrokeWidth": 1.2, "symbolOpacity": 1, "labelExpr": "datum.label + '⁰C'"}},
      "stroke": {"field": "s", "type": "nominal",
        "scale": {"domain": ["20","30","50","70","100","120","150","170"], "range": ["#000000","#000000","#ff0000","#000080","#74293f","#800000","#00ff00","#8b0000"]},
        "legend": {"orient": "none", "legendX": 160, "legendY": 38, "title": null, "padding": 0, "labelFont": "Liberation Serif", "labelFontSize": 18, "labelFontWeight": "bold", "labelColor": "black", "labelOffset": 14, "rowPadding": 17.8, "symbolSize": 100, "symbolStrokeWidth": 1.2, "symbolOpacity": 1, "labelExpr": "datum.label + '⁰C'"}}
    }
  },
  {
    "mark": {"type": "line", "strokeWidth": 1.2, "clip": true},
    "encoding": {
      "x": {"field": "v", "type": "quantitative", "scale": {"domain": [-1, 2], "nice": false, "zero": false},
        "axis": {"orient": "bottom", "values": [-1, -0.5, 0, 0.5, 1, 1.5, 2], "tickSize": 7, "tickWidth": 1.5, "tickColor": "black", "domainColor": "black", "domainWidth": 1.5, "grid": false, "labelFlush": false, "labelOverlap": false, "labelFont": "Liberation Sans", "labelFontSize": 14, "labelFontWeight": "bold", "labelColor": "black", "labelPadding": 3, "labelExpr": "replace(format(datum.value, '.1f'), '−', '-')", "title": "Biased Voltage(V)", "titleFont": "Liberation Sans", "titleFontSize": 18, "titleFontWeight": "bold", "titleColor": "black", "titlePadding": 11}},
      "y": {"field": "i", "type": "quantitative", "scale": {"domain": [-4e-5, 2e-4], "nice": false, "zero": false},
        "axis": {"orient": "left", "values": [-4e-5, 0, 4e-5, 8e-5, 1.2e-4, 1.6e-4, 2e-4], "tickSize": 8, "tickWidth": 1.5, "tickColor": "black", "domainColor": "black", "domainWidth": 1.5, "grid": false, "labelOverlap": false, "labelFont": "Liberation Sans", "labelFontSize": 14, "labelFontWeight": "bold", "labelColor": "black", "labelPadding": 4, "labelExpr": "datum.value > 1.9e-4 ? '2.0x10⁻⁴' : datum.value > 1.5e-4 ? '1.6x10⁻⁴' : datum.value > 1.1e-4 ? '1.2x10⁻⁴' : datum.value > 7e-5 ? '8.0x10⁻⁵' : datum.value > 3e-5 ? '4.0x10⁻⁵' : datum.value > -1e-5 ? '0.0' : '-4.0x10⁻⁵'", "title": "Current(A)", "titleFont": "Liberation Sans", "titleFontSize": 18, "titleFontWeight": "bold", "titleColor": "black", "titleAngle": -90, "titleX": -86, "titleY": 272, "titleAlign": "center", "titleBaseline": "middle"}},
      "stroke": {"field": "s", "type": "nominal", "scale": {"domain": ["20","30","50","70","100","120","150","170"], "range": ["#000000","#000000","#ff0000","#000080","#74293f","#800000","#00ff00","#8b0000"]}, "legend": null},
      "order": {"field": "v", "type": "quantitative"}
    }
  },
  {
    "transform": [{"filter": "datum.s == '20' || datum.s == '30'"}],
    "mark": {"type": "point", "shape": "circle", "size": 49, "strokeWidth": 1, "opacity": 1, "clip": true},
    "encoding": {
      "fill": {"field": "s", "type": "nominal", "scale": {"domain": ["20","30","50","70","100","120","150","170"], "range": ["#000000","#ffffff","#ff0000","#ffffff","#74293f","#ffffff","#00ff00","#ffffff"]}, "legend": null},
      "stroke": {"field": "s", "type": "nominal", "scale": {"domain": ["20","30","50","70","100","120","150","170"], "range": ["#000000","#000000","#ff0000","#000080","#74293f","#800000","#00ff00","#8b0000"]}, "legend": null}
    }
  },
  {
    "transform": [{"filter": "datum.s == '30'"}],
    "mark": {"type": "point", "shape": "M-1,0A1,1,0,0,1,1,0Z", "size": 49, "filled": true, "fill": "#000000", "strokeWidth": 0, "opacity": 1, "clip": true}
  },
  {
    "transform": [{"filter": "datum.s == '50' || datum.s == '70'"}],
    "mark": {"type": "point", "shape": "M0,-1L1,0.75L-1,0.75Z", "size": 81, "strokeWidth": 1, "opacity": 1, "clip": true},
    "encoding": {
      "fill": {"field": "s", "type": "nominal", "scale": {"domain": ["20","30","50","70","100","120","150","170"], "range": ["#000000","#ffffff","#ff0000","#ffffff","#74293f","#ffffff","#00ff00","#ffffff"]}, "legend": null},
      "stroke": {"field": "s", "type": "nominal", "scale": {"domain": ["20","30","50","70","100","120","150","170"], "range": ["#000000","#000000","#ff0000","#000080","#74293f","#800000","#00ff00","#8b0000"]}, "legend": null}
    }
  },
  {
    "transform": [{"filter": "datum.s == '70'"}],
    "mark": {"type": "point", "shape": "M0,-1L0.5,-0.125L-0.5,-0.125Z", "size": 81, "filled": true, "fill": "#000080", "strokeWidth": 0, "opacity": 1, "clip": true}
  },
  {
    "transform": [{"filter": "datum.s == '100' || datum.s == '120'"}],
    "mark": {"type": "point", "shape": "M0,-1L1,0L0,1L-1,0Z", "size": 81, "strokeWidth": 1, "opacity": 1, "clip": true},
    "encoding": {
      "fill": {"field": "s", "type": "nominal", "scale": {"domain": ["20","30","50","70","100","120","150","170"], "range": ["#000000","#ffffff","#ff0000","#ffffff","#74293f","#ffffff","#00ff00","#ffffff"]}, "legend": null},
      "stroke": {"field": "s", "type": "nominal", "scale": {"domain": ["20","30","50","70","100","120","150","170"], "range": ["#000000","#000000","#ff0000","#000080","#74293f","#800000","#00ff00","#8b0000"]}, "legend": null}
    }
  },
  {
    "transform": [{"filter": "datum.s == '120'"}],
    "mark": {"type": "point", "shape": "M-1,0L0,-1L1,0Z", "size": 81, "filled": true, "fill": "#800000", "strokeWidth": 0, "opacity": 1, "clip": true}
  },
  {
    "transform": [{"filter": "datum.s == '150' || datum.s == '170'"}],
    "mark": {"type": "point", "shape": "M0,-1L0.235,-0.324L0.951,-0.309L0.38,0.124L0.588,0.809L0,0.4L-0.588,0.809L-0.38,0.124L-0.951,-0.309L-0.235,-0.324Z", "size": 110, "strokeWidth": 1, "opacity": 1, "clip": true},
    "encoding": {
      "fill": {"field": "s", "type": "nominal", "scale": {"domain": ["20","30","50","70","100","120","150","170"], "range": ["#000000","#ffffff","#ff0000","#ffffff","#74293f","#ffffff","#00ff00","#ffffff"]}, "legend": null},
      "stroke": {"field": "s", "type": "nominal", "scale": {"domain": ["20","30","50","70","100","120","150","170"], "range": ["#000000","#000000","#ff0000","#000080","#74293f","#800000","#00ff00","#8b0000"]}, "legend": null}
    }
  }
],
"resolve": {"axis": {"x": "independent", "y": "independent"}}
}
